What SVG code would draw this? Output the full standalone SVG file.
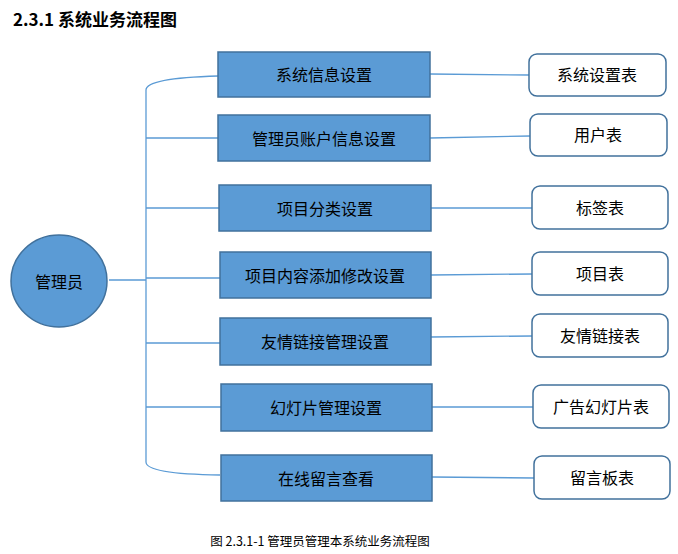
<svg xmlns="http://www.w3.org/2000/svg" width="678" height="554" viewBox="0 0 678 554">
<style>
text{font-family:"Noto Sans CJK SC","Noto Sans",sans-serif;fill:#000}
.b{fill:#5b9bd5;stroke:#41719c;stroke-width:1.5}
.t{fill:#fff;stroke:#41719c;stroke-width:1.5}
.l{fill:none;stroke:#5b9bd5;stroke-width:1.3}
.n{font-size:16px;text-anchor:middle;dominant-baseline:central}
</style>
<rect width="678" height="554" fill="#fff"/>
<text x="13" y="26" font-size="17" font-weight="bold">2.3.1 系统业务流程图</text>
<g id="connectors">
<path class="l" d="M109 280H146M146 90Q146 78 218 76M146 90V462Q146 474 220 475M146 138H218M146 208H219M146 278H220M146 343H220M146 407H221"/>
<path class="l" d="M430 74L529 75M430 138L530 136M431 208L532 208M431 275L532 274M431 337L532 336M432 407L533 407M432 477L534 478"/>
</g>
<g id="admin"><ellipse class="b" cx="59" cy="281" rx="48" ry="46"/><text class="n" x="59" y="281">管理员</text></g>
<g id="n1"><rect class="b" x="218" y="52" width="212" height="45"/><text class="n" x="324" y="74">系统信息设置</text></g>
<g id="n2"><rect class="b" x="218" y="115" width="212" height="46"/><text class="n" x="324" y="138">管理员账户信息设置</text></g>
<g id="n3"><rect class="b" x="219" y="185" width="212" height="46"/><text class="n" x="325" y="208">项目分类设置</text></g>
<g id="n4"><rect class="b" x="220" y="252" width="211" height="46"/><text class="n" x="325" y="275">项目内容添加修改设置</text></g>
<g id="n5"><rect class="b" x="220" y="318" width="211" height="47"/><text class="n" x="325" y="341">友情链接管理设置</text></g>
<g id="n6"><rect class="b" x="221" y="384" width="211" height="47"/><text class="n" x="326" y="407">幻灯片管理设置</text></g>
<g id="n7"><rect class="b" x="221" y="455" width="211" height="46"/><text class="n" x="326" y="478">在线留言查看</text></g>
<g id="t1"><rect class="t" x="529" y="54" width="137" height="42" rx="8"/><text class="n" x="597" y="74">系统设置表</text></g>
<g id="t2"><rect class="t" x="530" y="114" width="137" height="42" rx="8"/><text class="n" x="598" y="134">用户表</text></g>
<g id="t3"><rect class="t" x="532" y="186" width="136" height="43" rx="8"/><text class="n" x="600" y="207">标签表</text></g>
<g id="t4"><rect class="t" x="532" y="252" width="136" height="43" rx="8"/><text class="n" x="600" y="273">项目表</text></g>
<g id="t5"><rect class="t" x="532" y="314" width="136" height="43" rx="8"/><text class="n" x="600" y="335">友情链接表</text></g>
<g id="t6"><rect class="t" x="533" y="385" width="136" height="43" rx="8"/><text class="n" x="601" y="406">广告幻灯片表</text></g>
<g id="t7"><rect class="t" x="534" y="456" width="136" height="43" rx="8"/><text class="n" x="602" y="477">留言板表</text></g>
<text x="320" y="546" font-size="12.5" text-anchor="middle">图 2.3.1-1 管理员管理本系统业务流程图</text>
</svg>
